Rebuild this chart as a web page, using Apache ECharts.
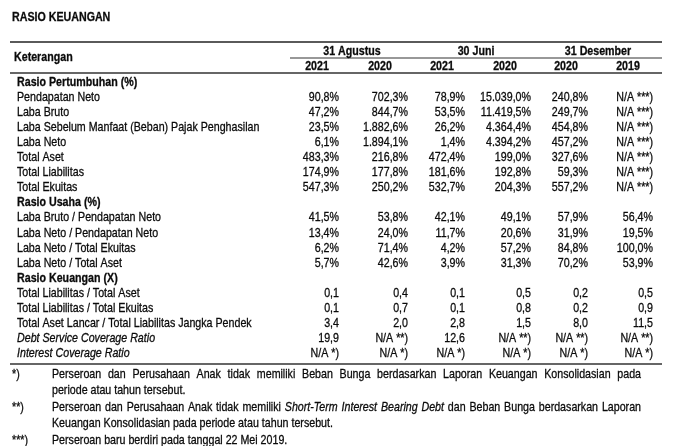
<!DOCTYPE html>
<html lang="id">
<head>
<meta charset="UTF-8">
<title>Rasio Keuangan</title>
<script src="https://cdn.jsdelivr.net/npm/echarts@6/dist/echarts.min.js"></script>
<style>
  html, body { margin: 0; padding: 0; background: #fff; }
  #main { width: 700px; height: 446px; }
</style>
</head>
<body>
<div id="main"></div>
<script>
// data
var groups = ['31 Agustus', '30 Juni', '31 Desember'];
var years = ['2021', '2020', '2021', '2020', '2020', '2019'];
var NA1 = 'N/A *)', NA2 = 'N/A **)', NA3 = 'N/A ***)';

var sectionTitles = ['Rasio Pertumbuhan (%)', 'Rasio Usaha (%)', 'Rasio Keuangan (X)'];
var sectionUnits = ['%', '%', ''];

var growthLabels = ['Pendapatan Neto', 'Laba Bruto', 'Laba Sebelum Manfaat (Beban) Pajak Penghasilan',
    'Laba Neto', 'Total Aset', 'Total Liabilitas', 'Total Ekuitas'];
var growthValues = [
    [90.8, 702.3, 78.9, 15039.0, 240.8, NA3],
    [47.2, 844.7, 53.5, 11419.5, 249.7, NA3],
    [23.5, 1882.6, 26.2, 4364.4, 454.8, NA3],
    [6.1, 1894.1, 1.4, 4394.2, 457.2, NA3],
    [483.3, 216.8, 472.4, 199.0, 327.6, NA3],
    [174.9, 177.8, 181.6, 192.8, 59.3, NA3],
    [547.3, 250.2, 532.7, 204.3, 557.2, NA3]
];

var usahaLabels = ['Laba Bruto / Pendapatan Neto', 'Laba Neto / Pendapatan Neto',
    'Laba Neto / Total Ekuitas', 'Laba Neto / Total Aset'];
var usahaValues = [
    [41.5, 53.8, 42.1, 49.1, 57.9, 56.4],
    [13.4, 24.0, 11.7, 20.6, 31.9, 19.5],
    [6.2, 71.4, 4.2, 57.2, 84.8, 100.0],
    [5.7, 42.6, 3.9, 31.3, 70.2, 53.9]
];

var keuanganLabels = ['Total Liabilitas / Total Aset', 'Total Liabilitas / Total Ekuitas',
    'Total Aset Lancar / Total Liabilitas Jangka Pendek', 'Debt Service Coverage Ratio',
    'Interest Coverage Ratio'];
var keuanganValues = [
    [0.1, 0.4, 0.1, 0.5, 0.2, 0.5],
    [0.1, 0.7, 0.1, 0.8, 0.2, 0.9],
    [3.4, 2.0, 2.8, 1.5, 8.0, 11.5],
    [19.9, NA2, 12.6, NA2, NA2, NA2],
    [NA1, NA1, NA1, NA1, NA1, NA1]
];

var italicLabels = ['Debt Service Coverage Ratio', 'Interest Coverage Ratio'];

var footnoteMarks = ['*)', '**)', '***)'];
var footnoteLines = [
    ['Perseroan dan Perusahaan Anak tidak memiliki Beban Bunga berdasarkan Laporan Keuangan Konsolidasian pada',
     'periode atau tahun tersebut.'],
    ['Perseroan dan Perusahaan Anak tidak memiliki {i|Short-Term Interest Bearing Debt} dan Beban Bunga berdasarkan Laporan',
     'Keuangan Konsolidasian pada periode atau tahun tersebut.'],
    ['Perseroan baru berdiri pada tanggal 22 Mei 2019.']
];

// layout (narrow font imitation: Liberation Sans squeezed horizontally)
var FONT = "'Liberation Sans', Arial, sans-serif";
var FS = 13, SX = 0.82, INK = '#0a0a0a';
var LABEL_X = 17;
var VALUE_RIGHT = [339, 408, 465, 531, 588, 653];
var YEAR_CENTER = [317, 380, 442, 505, 566, 628];
var GROUP_CENTER = [352, 476, 598];
var ROW_H = 15.1, FIRST_ROW_Y = 82;
var NOTE_X = 52, NOTE_RIGHT = 641;

function fmt(v, unit) {
    if (typeof v === 'string') return v;
    var parts = v.toFixed(1).split('.');
    return parts[0].replace(/\B(?=(\d{3})+(?!\d))/g, '.') + ',' + parts[1] + unit;
}

var cells = [];
function addCell(text, x, row, align, weight, style) {
    cells.push({ text: text, x: x, row: row, align: align, weight: weight || 'normal', style: style || 'normal' });
}

// header
groups.forEach(function (g, i) { addCell(g, GROUP_CENTER[i], -2, 'center', 'bold'); });
years.forEach(function (y, i) { addCell(y, YEAR_CENTER[i], -1, 'center', 'bold'); });
addCell('Keterangan', LABEL_X - 3, -1.6, 'left', 'bold');

// body
var row = 0;
[[growthLabels, growthValues], [usahaLabels, usahaValues], [keuanganLabels, keuanganValues]].forEach(function (sec, s) {
    addCell(sectionTitles[s], LABEL_X, row, 'left', 'bold');
    row++;
    sec[0].forEach(function (name, r) {
        addCell(name, LABEL_X, row, 'left', 'normal', italicLabels.indexOf(name) >= 0 ? 'italic' : 'normal');
        sec[1][r].forEach(function (v, c) {
            addCell(fmt(v, sectionUnits[s]), VALUE_RIGHT[c], row, 'right');
        });
        row++;
    });
});

function textEl(text, x, y, opts) {
    opts = opts || {};
    return {
        type: 'text', x: x, y: y, scaleX: SX, silent: true,
        style: {
            text: text, fill: INK, stroke: INK, lineWidth: 0.3,
            fontSize: FS, fontFamily: FONT,
            fontWeight: opts.weight || 'normal', fontStyle: opts.style || 'normal',
            align: opts.align || 'left', verticalAlign: 'middle',
            textAlign: opts.align || 'left', textVerticalAlign: 'middle'
        }
    };
}

var graphics = [
    { type: 'line', silent: true, shape: { x1: 10, y1: 42, x2: 662, y2: 42 }, style: { stroke: '#5a5a5a', lineWidth: 2 } },
    { type: 'line', silent: true, shape: { x1: 290, y1: 58, x2: 662, y2: 58 }, style: { stroke: '#333', lineWidth: 1.2 } },
    { type: 'line', silent: true, shape: { x1: 10, y1: 73, x2: 662, y2: 73 }, style: { stroke: '#333', lineWidth: 1.5 } },
    { type: 'line', silent: true, shape: { x1: 10, y1: 364, x2: 662, y2: 364 }, style: { stroke: '#333', lineWidth: 1.5 } },
    textEl('RASIO KEUANGAN', 12, 17, { weight: 'bold' })
];

// footnotes, word by word so that the first line of a note is justified like the source
var ctx = document.createElement('canvas').getContext('2d');
function wordWidth(w, italic) {
    ctx.font = (italic ? 'italic ' : '') + FS + 'px ' + FONT;
    return ctx.measureText(w).width * SX;
}
function splitWords(line) {
    var out = [];
    line.split(/(\{i\|[^}]*\})/).forEach(function (part) {
        var it = part.indexOf('{i|') === 0;
        var txt = it ? part.slice(3, -1) : part;
        txt.split(/\s+/).forEach(function (w) { if (w) out.push({ w: w, it: it }); });
    });
    return out;
}

var noteY = 374;
footnoteMarks.forEach(function (m, i) {
    graphics.push(textEl(m, 12, noteY));
    footnoteLines[i].forEach(function (line, li) {
        var words = splitWords(line);
        var widths = words.map(function (o) { return wordWidth(o.w, o.it); });
        var total = widths.reduce(function (a, b) { return a + b; }, 0);
        var justify = li < footnoteLines[i].length - 1;
        var gap = justify ? (NOTE_RIGHT - NOTE_X - total) / (words.length - 1) : wordWidth(' ', false);
        var x = NOTE_X;
        words.forEach(function (o, k) {
            graphics.push(textEl(o.w, x, noteY, { style: o.it ? 'italic' : 'normal' }));
            x += widths[k] + gap;
        });
        noteY += 16.5;
    });
});

var chart = echarts.init(document.getElementById('main'));
chart.setOption({
    animation: false,
    grid: { left: 0, width: 700, top: FIRST_ROW_Y - 2.5 * ROW_H, height: 21 * ROW_H },
    xAxis: { type: 'value', min: 0, max: 700, show: false },
    yAxis: { type: 'value', min: -2.5, max: 18.5, inverse: true, show: false },
    graphic: graphics,
    series: [{
        type: 'custom',
        silent: true,
        clip: false,
        data: cells.map(function (c) { return [c.x, c.row]; }),
        encode: { x: 0, y: 1 },
        renderItem: function (params, api) {
            var c = cells[params.dataIndex];
            var p = api.coord([api.value(0), api.value(1)]);
            return textEl(c.text, p[0], p[1], { align: c.align, weight: c.weight, style: c.style });
        }
    }]
});
</script>
</body>
</html>
